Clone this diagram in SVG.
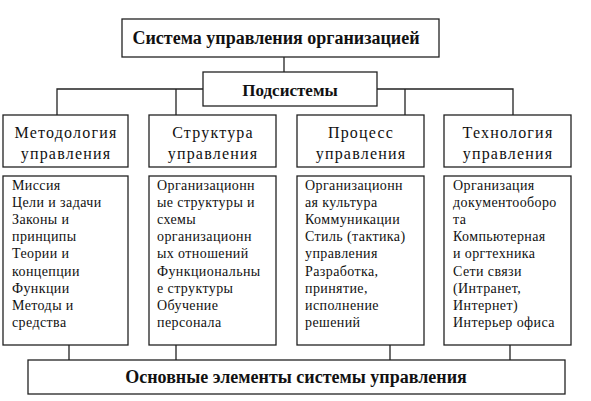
<svg xmlns="http://www.w3.org/2000/svg" width="591" height="401" viewBox="0 0 591 401">
<style>
.box{fill:#fff;stroke:#222;stroke-width:1.3}
.ln{fill:none;stroke:#222;stroke-width:1.3}
.t{font-family:"Liberation Serif","Times New Roman",serif;fill:#111}
.b{font-weight:bold;font-size:18px;text-anchor:middle}
.h{font-size:16px;text-anchor:middle;letter-spacing:1.2px}
.c{font-size:14px;letter-spacing:0.4px}
</style>
<rect width="591" height="401" fill="#fff"/>
<g id="connectors">
<path class="ln" d="M284 57V72"/>
<path class="ln" d="M57 115V89H203M377 89H513V115M176 89V115M405 89V115"/>
<path class="ln" d="M69 345V360M176 345V360M390 345V360M510 345V360"/>
</g>
<g id="root"><rect class="box" x="122" y="19" width="317" height="38"/><text class="t b" x="276" y="44">Система управления организацией</text></g>
<g id="sub"><rect class="box" x="203" y="72" width="174" height="34"/><text class="t b" x="290" y="96" style="font-size:17px">Подсистемы</text></g>
<g id="h1"><rect class="box" x="3" y="115" width="125" height="52"/><text class="t h" x="66" y="138">Методология<tspan x="66" y="159">управления</tspan></text></g>
<g id="h2"><rect class="box" x="149" y="115" width="127" height="52"/><text class="t h" x="213" y="138">Структура<tspan x="213" y="159">управления</tspan></text></g>
<g id="h3"><rect class="box" x="297" y="115" width="127" height="52"/><text class="t h" x="361" y="138">Процесс<tspan x="361" y="159">управления</tspan></text></g>
<g id="h4"><rect class="box" x="444" y="115" width="127" height="52"/><text class="t h" x="508" y="138">Технология<tspan x="508" y="159">управления</tspan></text></g>
<g id="c1"><rect class="box" x="3" y="176" width="125" height="169"/><text class="t c" x="12" y="190">Миссия<tspan x="12" dy="17.1">Цели и задачи</tspan><tspan x="12" dy="17.1">Законы и</tspan><tspan x="12" dy="17.1">принципы</tspan><tspan x="12" dy="17.1">Теории и</tspan><tspan x="12" dy="17.1">концепции</tspan><tspan x="12" dy="17.1">Функции</tspan><tspan x="12" dy="17.1">Методы и</tspan><tspan x="12" dy="17.1">средства</tspan></text></g>
<g id="c2"><rect class="box" x="149" y="176" width="127" height="169"/><text class="t c" x="157" y="190">Организационн<tspan x="157" dy="17.1">ые структуры и</tspan><tspan x="157" dy="17.1">схемы</tspan><tspan x="157" dy="17.1">организационн</tspan><tspan x="157" dy="17.1">ых отношений</tspan><tspan x="157" dy="17.1">Функциональны</tspan><tspan x="157" dy="17.1">е структуры</tspan><tspan x="157" dy="17.1">Обучение</tspan><tspan x="157" dy="17.1">персонала</tspan></text></g>
<g id="c3"><rect class="box" x="297" y="176" width="127" height="169"/><text class="t c" x="305" y="190">Организационн<tspan x="305" dy="17.1">ая культура</tspan><tspan x="305" dy="17.1">Коммуникации</tspan><tspan x="305" dy="17.1">Стиль (тактика)</tspan><tspan x="305" dy="17.1">управления</tspan><tspan x="305" dy="17.1">Разработка,</tspan><tspan x="305" dy="17.1">принятие,</tspan><tspan x="305" dy="17.1">исполнение</tspan><tspan x="305" dy="17.1">решений</tspan></text></g>
<g id="c4"><rect class="box" x="444" y="176" width="127" height="169"/><text class="t c" x="453" y="190">Организация<tspan x="453" dy="17.1">документооборо</tspan><tspan x="453" dy="17.1">та</tspan><tspan x="453" dy="17.1">Компьютерная</tspan><tspan x="453" dy="17.1">и оргтехника</tspan><tspan x="453" dy="17.1">Сети связи</tspan><tspan x="453" dy="17.1">(Интранет,</tspan><tspan x="453" dy="17.1">Интернет)</tspan><tspan x="453" dy="17.1">Интерьер офиса</tspan></text></g>
<g id="base"><rect class="box" x="28" y="360" width="537" height="34"/><text class="t b" x="296" y="383">Основные элементы системы управления</text></g>
</svg>
